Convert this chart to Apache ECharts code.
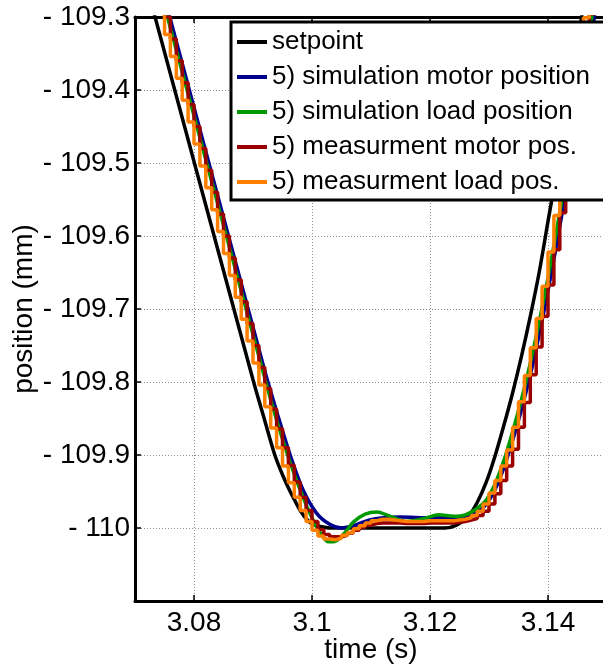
<!DOCTYPE html>
<html>
<head>
<meta charset="utf-8">
<script src="https://cdn.jsdelivr.net/npm/echarts@6/dist/echarts.min.js"></script>
<style>
  html, body { margin: 0; padding: 0; background: #fff; }
  #chart { width: 603px; height: 666px; }
</style>
</head>
<body>
<div id="chart"></div>
<script>
/* position response around the -110 mm turning point: setpoint, simulation, measurement */

const xTicks = [3.08, 3.10, 3.12, 3.14];
const yTicks = [-110, -109.9, -109.8, -109.7, -109.6, -109.5, -109.4, -109.3];

// ---- setpoint ----
const setpointT = [3.0700, 3.0900, 3.0920, 3.0937, 3.0950, 3.0963, 3.0972, 3.0980, 3.0991, 3.1002, 3.1014, 3.1030,
  3.1225, 3.1245, 3.1265, 3.1280, 3.1295, 3.1310, 3.1325, 3.1340, 3.1355, 3.1370, 3.1385, 3.1400, 3.1415, 3.1430, 3.1445, 3.1460, 3.1500];
const setpointV = [-109.198, -109.797, -109.853, -109.900, -109.927, -109.950, -109.964, -109.976, -109.988, -109.995, -109.998, -110.000,
  -110.000, -109.996, -109.984, -109.965, -109.938, -109.902, -109.860, -109.815, -109.765, -109.710, -109.650, -109.580, -109.510, -109.435, -109.360, -109.285, -109.080];

// ---- simulation motor position ----
const simMotorT = [3.0700, 3.0920, 3.0940, 3.0963, 3.0985, 3.1008, 3.1030, 3.1050, 3.1070, 3.1090, 3.1110, 3.1150, 3.1200, 3.1240,
  3.1260, 3.1280, 3.1295, 3.1310, 3.1325, 3.1340, 3.1355, 3.1370, 3.1385, 3.1400, 3.1415, 3.1430, 3.1445, 3.1460, 3.1475, 3.1500];
const simMotorV = [-109.122, -109.785, -109.840, -109.900, -109.948, -109.980, -109.995, -110.000, -109.997, -109.991, -109.987, -109.985, -109.986, -109.986,
  -109.984, -109.978, -109.968, -109.948, -109.918, -109.880, -109.838, -109.790, -109.735, -109.675, -109.610, -109.540, -109.468, -109.393, -109.318, -109.190];

// ---- simulation load position ----
const simLoadT = [3.0700, 3.0920, 3.0940, 3.0960, 3.0980, 3.1000, 3.1015, 3.1028, 3.1040, 3.1055, 3.1070, 3.1090, 3.1110, 3.1130, 3.1160,
  3.1190, 3.1215, 3.1240, 3.1260, 3.1280, 3.1295, 3.1310, 3.1325, 3.1340, 3.1355, 3.1370, 3.1385, 3.1400, 3.1415, 3.1430, 3.1445, 3.1460, 3.1475, 3.1500];
const simLoadV = [-109.135, -109.795, -109.852, -109.903, -109.948, -109.986, -110.008, -110.019, -110.018, -110.007, -109.992, -109.981, -109.978, -109.983, -109.991,
  -109.987, -109.982, -109.984, -109.982, -109.973, -109.962, -109.940, -109.908, -109.868, -109.824, -109.774, -109.718, -109.657, -109.590, -109.520, -109.447, -109.372, -109.296, -109.170];

// ---- measurements, sampled every 1 ms (3.070 ... 3.150) ----
const measTime = [3.070, 3.071, 3.072, 3.073, 3.074, 3.075, 3.076, 3.077, 3.078, 3.079,
  3.080, 3.081, 3.082, 3.083, 3.084, 3.085, 3.086, 3.087, 3.088, 3.089,
  3.090, 3.091, 3.092, 3.093, 3.094, 3.095, 3.096, 3.097, 3.098, 3.099,
  3.100, 3.101, 3.102, 3.103, 3.104, 3.105, 3.106, 3.107, 3.108, 3.109,
  3.110, 3.111, 3.112, 3.113, 3.114, 3.115, 3.116, 3.117, 3.118, 3.119,
  3.120, 3.121, 3.122, 3.123, 3.124, 3.125, 3.126, 3.127, 3.128, 3.129,
  3.130, 3.131, 3.132, 3.133, 3.134, 3.135, 3.136, 3.137, 3.138, 3.139,
  3.140, 3.141, 3.142, 3.143, 3.144, 3.145, 3.146, 3.147, 3.148, 3.149, 3.150];
const measMotor = [-109.150, -109.180, -109.210, -109.240, -109.270, -109.300, -109.330, -109.360, -109.390, -109.420,
  -109.450, -109.480, -109.510, -109.540, -109.570, -109.600, -109.630, -109.660, -109.690, -109.720,
  -109.750, -109.780, -109.809, -109.837, -109.864, -109.890, -109.914, -109.937, -109.958, -109.976,
  -109.991, -110.002, -110.009, -110.012, -110.012, -110.010, -110.007, -110.003, -109.999, -109.996,
  -109.994, -109.993, -109.993, -109.993, -109.993, -109.994, -109.994, -109.994, -109.994, -109.993,
  -109.993, -109.993, -109.993, -109.993, -109.992, -109.991, -109.989, -109.987, -109.983, -109.977,
  -109.967, -109.953, -109.935, -109.915, -109.892, -109.862, -109.828, -109.790, -109.752, -109.710,
  -109.667, -109.619, -109.568, -109.516, -109.462, -109.406, -109.351, -109.296, -109.241, -109.186, -109.131];
const measLoad = [-109.174, -109.204, -109.234, -109.264, -109.294, -109.324, -109.354, -109.384, -109.414, -109.444,
  -109.474, -109.504, -109.534, -109.564, -109.594, -109.624, -109.654, -109.684, -109.714, -109.744,
  -109.774, -109.804, -109.834, -109.863, -109.890, -109.915, -109.938, -109.958, -109.976, -109.991,
  -110.003, -110.011, -110.015, -110.016, -110.014, -110.010, -110.006, -110.001, -109.997, -109.993,
  -109.990, -109.988, -109.988, -109.989, -109.990, -109.991, -109.991, -109.991, -109.991, -109.990,
  -109.990, -109.990, -109.990, -109.990, -109.989, -109.988, -109.986, -109.983, -109.977, -109.967,
  -109.952, -109.935, -109.915, -109.893, -109.862, -109.827, -109.791, -109.753, -109.713, -109.669,
  -109.622, -109.572, -109.520, -109.466, -109.411, -109.356, -109.301, -109.246, -109.191, -109.136, -109.081];

const FONT = '"Liberation Sans", Arial, Helvetica, sans-serif';
const pairs = (ts, vs) => ts.map((t, i) => [t, vs[i]]);

function line(name, color, data, step) {
  return {
    name, type: 'line', data, step: step || false,
    showSymbol: false, smooth: step ? false : 0.3, clip: true,
    lineStyle: { color, width: 3.5 }, itemStyle: { color },
  };
}

const axisLine = { lineStyle: { color: '#000', width: 3 } };
const tickStyle = { color: '#000', width: 1.5 };
const gridLine = { show: true, lineStyle: { color: '#909090', width: 1, type: [1, 2] } };

const chart = echarts.init(document.getElementById('chart'), null, { renderer: 'canvas' });
chart.setOption({
  animation: false,
  grid: { left: 135, top: 17, width: 472, height: 584, outerBoundsMode: 'none', containLabel: false },
  legend: {
    orient: 'vertical', left: 231, top: 22,
    backgroundColor: '#fff', borderColor: '#000', borderWidth: 3,
    padding: [7, 16, 5, 6],
    icon: 'rect', itemWidth: 30, itemHeight: 4, itemGap: 9,
    textStyle: { fontSize: 26, lineHeight: 26, fontFamily: FONT, color: '#000' },
  },
  xAxis: [{
    type: 'value', min: 3.07, max: 3.15,
    axisLine,
    axisTick: { inside: true, length: 6, customValues: xTicks, lineStyle: tickStyle },
    axisLabel: {
      customValues: xTicks, color: '#000', fontSize: 28, fontFamily: FONT, margin: 8,
      formatter: (v) => String(+v.toFixed(2)),
    },
    splitLine: gridLine,
    name: 'time (s)', nameLocation: 'middle', nameGap: 35, nameMoveOverlap: false,
    nameTextStyle: { color: '#000', fontSize: 28, fontFamily: FONT },
  }, {
    type: 'value', position: 'top', min: 3.07, max: 3.15,
    axisLine,
    axisTick: { inside: true, length: 6, customValues: xTicks, lineStyle: tickStyle },
    axisLabel: { show: false },
    splitLine: { show: false },
  }],
  yAxis: {
    type: 'value', min: -110.1, max: -109.3,
    axisLine,
    axisTick: { inside: true, length: 6, customValues: yTicks, lineStyle: tickStyle },
    axisLabel: {
      customValues: yTicks, color: '#000', fontSize: 28, fontFamily: FONT, margin: 5,
      formatter: (v) => '- ' + Math.abs(v).toFixed(1).replace(/\.0$/, ''),
    },
    splitLine: gridLine,
    name: 'position (mm)', nameLocation: 'middle', nameGap: 97, nameRotate: 90, nameMoveOverlap: false,
    nameTextStyle: { color: '#000', fontSize: 28, fontFamily: FONT },
  },
  series: [
    line('setpoint', '#000000', pairs(setpointT, setpointV)),
    line('5) simulation motor position', '#00008f', pairs(simMotorT, simMotorV)),
    line('5) simulation load position', '#009a00', pairs(simLoadT, simLoadV)),
    line('5) measurment motor pos.', '#9a0000', pairs(measTime, measMotor), 'end'),
    line('5) measurment load pos.', '#ff8000', pairs(measTime, measLoad), 'end'),
  ],
});
</script>
</body>
</html>
